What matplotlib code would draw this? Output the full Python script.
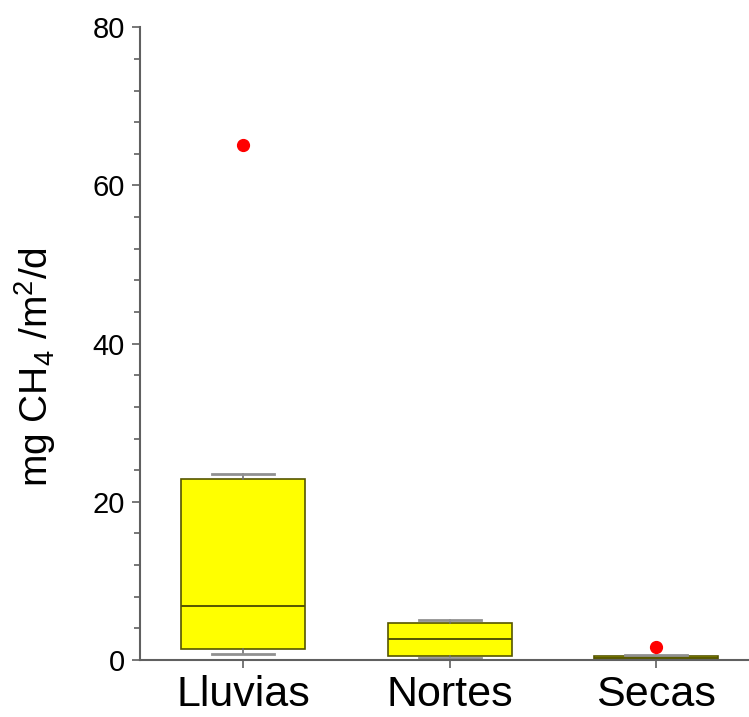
import matplotlib
matplotlib.use("Agg")
import matplotlib.pyplot as plt
from matplotlib.ticker import MultipleLocator

plt.rcParams['font.family'] = ['Liberation Sans', 'DejaVu Sans']
plt.rcParams['mathtext.fontset'] = 'custom'
plt.rcParams['mathtext.rm'] = 'Liberation Sans'
plt.rcParams['mathtext.it'] = 'Liberation Sans'

categories = ["Lluvias", "Nortes", "Secas"]
q1 = [1.4, 0.5, 0.05]
medians = [6.8, 2.65, 0.2]
q3 = [22.9, 4.7, 0.55]
whislo = [0.75, 0.3, 0.02]
whishi = [23.5, 5.05, 0.6]
fliers = [[65.1], [], [1.65]]

stats = []
for i, c in enumerate(categories):
    stats.append(dict(label=c, med=medians[i], q1=q1[i], q3=q3[i],
                      whislo=whislo[i], whishi=whishi[i], fliers=fliers[i]))

fig = plt.figure(figsize=(7.49, 7.17), dpi=100)
ax = fig.add_axes([0.187, 0.0795, 0.813, 0.8825])

edge = '#555500'
ax.bxp(stats, positions=[1, 2, 3], widths=0.6, patch_artist=True,
       boxprops=dict(facecolor='#FFFF00', edgecolor=edge, linewidth=1.2),
       medianprops=dict(color=edge, linewidth=1.4),
       whiskerprops=dict(color='#707070', linewidth=1.2),
       capprops=dict(color='#909090', linewidth=2.0),
       capwidths=0.3,
       flierprops=dict(marker='o', markerfacecolor='#FF0000', markeredgecolor='#FF0000',
                       markersize=8.5, linestyle='none'))

ax.set_xlim(0.5, 3.45)
ax.set_ylim(0, 80)
ax.yaxis.set_major_locator(MultipleLocator(20))
ax.yaxis.set_minor_locator(MultipleLocator(4))

for s in ['top', 'right']:
    ax.spines[s].set_visible(False)
for s in ['left', 'bottom']:
    ax.spines[s].set_color('#606060')
    ax.spines[s].set_linewidth(1.5)

ax.tick_params(axis='y', which='major', length=6, width=1.2, color='#606060',
               labelsize=21, pad=5)
ax.tick_params(axis='y', which='minor', length=4, width=1.2, color='#606060')
ax.tick_params(axis='x', which='major', length=6, width=1.2, color='#606060',
               labelsize=31, pad=5)
ax.set_xticks([1, 2, 3])
ax.set_xticklabels(categories)

ax.set_ylabel("mg CH$_4$ /m$^2$/d", fontsize=28)
ax.yaxis.set_label_coords(-0.134, 0.463)

fig.savefig("out.png", dpi=100)
